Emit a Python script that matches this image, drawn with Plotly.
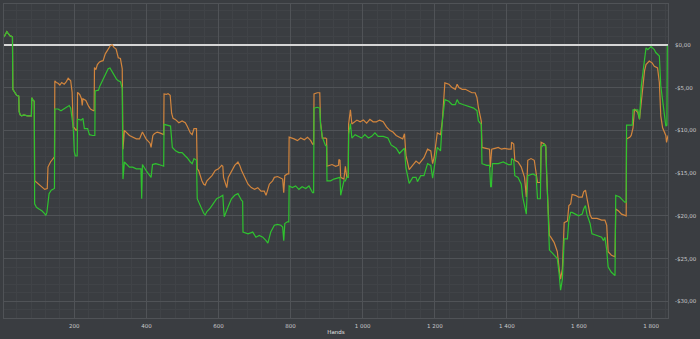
import plotly.graph_objects as go

# shared start of both series (lines overlap)
common_hands = [5, 9, 13, 17, 22, 26, 28.5, 29.5, 32, 36, 40, 46, 47, 50, 54, 60, 70, 81, 82, 86, 89]
common_values = [0.93, 1.2, 1.55, 1.3, 1.05, 1.0, 0.9, -5.2, -5.4, -5.6, -5.9, -6.0, -7.8, -8.2, -8.3, -8.2, -8.3, -8.3, -6.2, -6.5, -6.6]

orange_hands = [90, 100, 110, 118, 125, 127, 134, 143, 145, 146, 150, 155, 160, 165, 172, 178, 183, 190, 194, 197, 200, 205, 208, 209, 215, 220, 222, 224, 232, 240, 245, 253, 255, 256, 260, 264, 270, 275, 280, 286, 292, 300, 305, 310, 316, 322, 328, 333, 335, 339, 353, 362, 372, 381, 385, 389, 399, 410, 413, 418, 422, 430, 437, 444, 448, 449, 455, 460, 466, 470, 474, 481, 490, 499, 508, 513, 522, 527, 532, 539, 541, 545, 550, 554, 559, 563, 568, 573, 582, 591, 600, 609, 612, 614, 619, 623, 627, 636, 645, 654, 659, 664, 673, 682, 691, 700, 709, 718, 727, 732, 741, 750, 755, 764, 778, 781, 784, 791, 795, 796, 810, 819, 828, 838, 847, 856, 861, 864, 865, 874, 881, 883, 888, 897, 900, 901, 915, 925, 933, 934, 937, 939, 948, 952, 956, 960, 961, 966, 970, 984, 993, 1002, 1011, 1020, 1029, 1038, 1047, 1057, 1066, 1075, 1084, 1093, 1102, 1111, 1116, 1120, 1129, 1139, 1148, 1157, 1166, 1170, 1180, 1189, 1194, 1198, 1207, 1216, 1221, 1225, 1228, 1239, 1248, 1257, 1262, 1267, 1276, 1285, 1294, 1303, 1312, 1317, 1321, 1329, 1331, 1340, 1349, 1352, 1354, 1356, 1358, 1367, 1376, 1385, 1394, 1404, 1412, 1413, 1419, 1422, 1431, 1440, 1449, 1454, 1458, 1467, 1476, 1485, 1493, 1495, 1504, 1508, 1510, 1518, 1522, 1531, 1540, 1545, 1549, 1554, 1559, 1568, 1572, 1577, 1581, 1590, 1599, 1609, 1613, 1618, 1622, 1627, 1631, 1636, 1650, 1663, 1672, 1677, 1681, 1690, 1700, 1702, 1709, 1718, 1727, 1731, 1732, 1741, 1745, 1750, 1754, 1763, 1768, 1773, 1777, 1782, 1786, 1795, 1803, 1809, 1818, 1823, 1827, 1832, 1841, 1843, 1847]
orange_values = [-15.9, -16.3, -16.6, -16.9, -16.8, -14.3, -13.7, -13.2, -13.1, -4.2, -4.4, -4.5, -4.7, -4.4, -4.6, -4.3, -3.9, -4.2, -5.55, -9.65, -9.7, -10.0, -9.9, -5.55, -5.8, -6.3, -7.1, -6.3, -6.5, -7.2, -7.5, -7.7, -7.7, -2.65, -2.9, -2.3, -2.0, -1.9, -1.85, -1.05, -0.7, -0.1, 0.0, -0.3, -0.5, -1.5, -1.6, -2.8, -12.2, -10.0, -10.6, -10.8, -11.0, -11.0, -10.5, -10.2, -11.0, -11.5, -12.0, -10.6, -10.4, -10.2, -10.3, -10.4, -10.5, -5.75, -5.8, -5.7, -5.9, -8.0, -8.6, -8.75, -9.1, -8.9, -9.1, -9.5, -10.3, -10.5, -9.8, -9.8, -14.5, -14.7, -15.5, -15.9, -16.3, -16.4, -15.9, -15.7, -15.3, -14.7, -14.5, -14.1, -14.2, -15.5, -16.2, -16.7, -15.5, -14.7, -14.1, -13.7, -14.1, -14.7, -15.5, -16.3, -16.7, -16.9, -16.7, -17.1, -17.1, -17.6, -16.3, -15.9, -15.5, -15.4, -15.7, -17.3, -15.3, -15.1, -15.1, -10.8, -11.0, -11.2, -10.9, -11.1, -10.8, -11.2, -11.6, -11.6, -5.75, -5.6, -5.6, -9.0, -10.9, -10.9, -11.0, -14.2, -14.0, -14.2, -14.1, -13.4, -13.5, -15.5, -15.7, -14.2, -15.5, -15.5, -9.25, -7.6, -9.25, -8.8, -9.0, -8.8, -9.15, -8.7, -9.0, -9.0, -8.8, -9.0, -9.6, -10.0, -10.2, -10.6, -10.8, -11.0, -10.4, -12.9, -14.6, -14.0, -13.6, -13.9, -13.5, -13.2, -12.2, -12.4, -13.9, -13.2, -10.3, -10.5, -8.9, -5.8, -4.45, -4.6, -5.0, -5.2, -4.6, -5.0, -5.2, -5.2, -5.4, -5.6, -5.6, -6.15, -7.3, -8.9, -12.0, -12.1, -12.2, -12.2, -14.3, -12.2, -12.2, -12.1, -12.0, -12.2, -12.1, -12.2, -12.2, -11.4, -11.6, -13.5, -13.7, -14.3, -15.5, -17.8, -13.5, -13.3, -13.5, -16.1, -16.1, -11.4, -11.6, -11.8, -14.9, -22.3, -22.5, -23.1, -24.2, -26.2, -27.4, -26.2, -20.8, -20.6, -18.8, -18.6, -17.5, -17.6, -17.8, -17.8, -17.2, -17.0, -18.0, -18.8, -19.9, -20.3, -20.3, -20.5, -20.5, -21.1, -24.2, -24.6, -24.8, -19.2, -19.4, -19.8, -20.0, -20.0, -11.0, -10.8, -10.6, -9.7, -7.5, -7.9, -8.7, -6.6, -4.8, -3.0, -2.3, -1.9, -2.1, -2.5, -2.7, -4.4, -8.3, -9.7, -10.6, -11.4, -10.6]

green_hands = [90, 95, 102, 110, 117, 121, 124, 130, 136, 143, 145, 146, 155, 163, 170, 178, 186, 190, 194, 197, 200, 203, 207, 208, 209, 219, 224, 228, 237, 242, 251, 257, 258, 267, 271, 280, 290, 294, 299, 303, 308, 317, 322, 328, 333, 335, 339, 353, 362, 372, 381, 385, 387, 389, 399, 408, 413, 417, 426, 435, 444, 448, 449, 458, 467, 472, 481, 490, 499, 508, 513, 522, 527, 532, 539, 541, 545, 550, 559, 563, 568, 577, 586, 595, 604, 612, 614, 616, 627, 636, 645, 654, 664, 667, 668, 682, 695, 704, 713, 723, 732, 737, 745, 755, 764, 773, 778, 781, 784, 791, 795, 796, 805, 814, 823, 832, 842, 851, 856, 861, 864, 865, 874, 881, 883, 888, 897, 900, 901, 911, 920, 934, 937, 939, 948, 952, 956, 960, 961, 966, 970, 979, 988, 997, 1006, 1016, 1025, 1034, 1043, 1057, 1070, 1079, 1093, 1102, 1111, 1116, 1120, 1129, 1139, 1148, 1152, 1161, 1170, 1180, 1189, 1194, 1203, 1207, 1216, 1221, 1228, 1239, 1248, 1257, 1262, 1267, 1280, 1294, 1308, 1317, 1321, 1329, 1331, 1344, 1352, 1355, 1357, 1360, 1376, 1390, 1404, 1412, 1413, 1419, 1422, 1431, 1440, 1444, 1454, 1458, 1472, 1481, 1485, 1493, 1495, 1504, 1508, 1510, 1518, 1527, 1536, 1540, 1545, 1549, 1554, 1559, 1568, 1572, 1577, 1581, 1590, 1599, 1609, 1613, 1618, 1622, 1631, 1636, 1650, 1663, 1668, 1672, 1677, 1681, 1690, 1695, 1700, 1702, 1713, 1722, 1727, 1731, 1732, 1748, 1750, 1763, 1768, 1773, 1777, 1782, 1786, 1791, 1800, 1809, 1813, 1823, 1827, 1836, 1841, 1844, 1845]
green_values = [-18.6, -19.0, -19.2, -19.4, -19.7, -19.95, -19.6, -17.4, -17.0, -16.8, -16.8, -7.5, -7.5, -7.7, -7.5, -7.35, -7.1, -7.4, -8.6, -9.6, -12.5, -13.0, -13.0, -13.0, -8.7, -8.8, -8.6, -9.8, -9.8, -10.5, -10.6, -10.6, -5.4, -5.3, -4.8, -4.0, -3.3, -2.8, -2.7, -3.0, -3.2, -4.0, -4.2, -4.3, -5.1, -15.7, -13.7, -14.3, -14.3, -14.5, -14.5, -14.5, -18.0, -14.0, -14.7, -15.3, -15.5, -14.0, -13.9, -14.0, -14.2, -14.2, -9.3, -9.4, -9.5, -12.0, -12.4, -12.6, -12.6, -13.0, -13.2, -13.7, -13.9, -13.3, -13.5, -18.0, -18.4, -18.9, -19.7, -19.9, -19.5, -19.1, -18.5, -18.0, -17.8, -17.6, -19.0, -20.1, -18.9, -18.0, -17.6, -17.4, -18.2, -18.3, -21.9, -22.1, -21.9, -22.5, -22.3, -22.5, -22.9, -23.2, -21.9, -21.1, -21.0, -21.1, -21.3, -22.9, -20.9, -20.7, -20.7, -16.5, -16.7, -16.5, -16.9, -16.6, -16.8, -16.5, -16.9, -17.3, -17.3, -7.4, -7.3, -7.4, -9.2, -10.8, -11.8, -11.8, -15.9, -15.9, -15.7, -15.5, -15.5, -17.6, -15.9, -15.9, -15.5, -15.5, -10.5, -9.2, -10.9, -10.5, -10.7, -10.9, -10.5, -10.9, -10.7, -10.3, -10.7, -10.7, -10.9, -11.7, -12.1, -12.7, -12.3, -12.1, -14.4, -16.2, -15.5, -15.5, -16.0, -15.3, -15.3, -13.9, -14.1, -15.6, -13.1, -12.0, -12.4, -8.9, -6.4, -6.6, -7.0, -7.0, -6.4, -6.8, -7.0, -7.2, -7.4, -7.7, -8.9, -9.3, -13.9, -14.1, -14.1, -16.6, -16.6, -13.9, -13.9, -13.7, -14.0, -14.0, -13.3, -13.5, -15.3, -15.5, -16.3, -17.8, -19.8, -15.3, -15.1, -15.3, -18.0, -18.0, -12.0, -11.6, -12.0, -14.3, -24.0, -24.4, -24.8, -25.0, -26.8, -28.7, -27.4, -22.7, -22.7, -20.5, -19.6, -19.6, -19.8, -20.0, -19.8, -19.2, -18.8, -19.8, -20.9, -22.1, -22.3, -22.5, -22.9, -22.5, -24.0, -26.0, -26.6, -26.8, -27.0, -17.6, -17.8, -18.2, -18.4, -18.4, -9.4, -9.4, -7.6, -7.6, -8.7, -4.8, -3.0, -1.7, -0.35, -0.55, -0.2, -0.55, -0.9, -1.3, -4.8, -8.3, -9.5, -9.4, -0.1]

x_tick_vals = [200, 400, 600, 800, 1000, 1200, 1400, 1600, 1800]
x_tick_text = ["200", "400", "600", "800", "1 000", "1 200", "1 400", "1 600", "1 800"]
y_tick_vals = [0, -5, -10, -15, -20, -25, -30]
y_tick_text = ["$0,00", "-$5,00", "-$10,00", "-$15,00", "-$20,00", "-$25,00", "-$30,00"]

ORANGE = "#d2853d"
GREEN = "#2fc22f"
BG = "#3a3d41"
GRID_MAJOR = "#505357"
GRID_MINOR = "#404347"
TEXT = "#c9cacc"
FONT = "DejaVu Sans"

fig = go.Figure()
fig.add_trace(go.Scatter(x=common_hands + orange_hands, y=common_values + orange_values,
                         mode="lines", line=dict(color=ORANGE, width=1.2), hoverinfo="skip",
                         showlegend=False))
fig.add_trace(go.Scatter(x=common_hands + green_hands, y=common_values + green_values,
                         mode="lines", line=dict(color=GREEN, width=1.2), hoverinfo="skip",
                         showlegend=False))

fig.update_layout(
    width=700, height=339,
    margin=dict(l=3, r=25, t=3, b=21),
    paper_bgcolor=BG, plot_bgcolor=BG,
    font=dict(family=FONT, size=5.5, color=TEXT),
    showlegend=False,
)
fig.update_xaxes(
    range=[5, 1847],
    tickmode="array", tickvals=x_tick_vals, ticktext=x_tick_text,
    ticks="", showgrid=True, gridcolor=GRID_MAJOR, gridwidth=1,
    minor=dict(tick0=0, dtick=40, showgrid=True, gridcolor=GRID_MINOR, gridwidth=1),
    zeroline=False, showline=True, linecolor=GRID_MAJOR, linewidth=1, mirror=True,
    ticklabelstandoff=2,
    title=dict(text="Hands", font=dict(family=FONT, size=5.5, color="#e0e0e0"), standoff=2),
)
fig.update_yaxes(
    range=[-31.95, 4.78], side="right",
    tickmode="array", tickvals=y_tick_vals, ticktext=y_tick_text,
    ticks="", showgrid=True, gridcolor=GRID_MAJOR, gridwidth=1,
    minor=dict(tick0=0, dtick=1, showgrid=True, gridcolor=GRID_MINOR, gridwidth=1),
    zeroline=True, zerolinecolor="#d6d6d6", zerolinewidth=2,
    showline=True, linecolor=GRID_MAJOR, linewidth=1, mirror=True,
    ticklabelstandoff=5,
)

fig.write_html("out.html")
